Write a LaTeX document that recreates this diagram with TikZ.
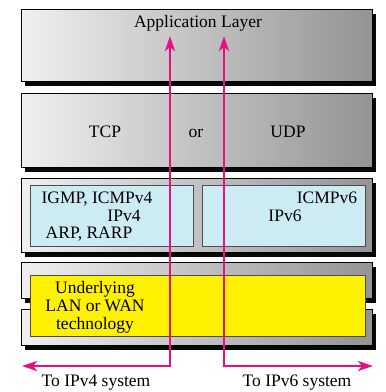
\documentclass[tikz,border=0pt]{standalone}
\usepackage{fontspec}
\setmainfont{Liberation Serif}
\usetikzlibrary{arrows.meta}
\definecolor{flowpink}{HTML}{E8107F}
\definecolor{netblue}{HTML}{CDEBF2}
\definecolor{shadowblack}{RGB}{8,8,8}
\tikzset{
  layer/.style={draw=black,line width=0.8pt,left color=black!6,right color=black!42,
    minimum width=351pt,inner sep=0pt},
  layershadow/.style={fill=shadowblack,minimum width=351pt,inner sep=0pt},
  protobox/.style={draw=black!70,line width=0.8pt,fill=netblue,minimum width=163pt,
    minimum height=61pt,inner sep=0pt},
  txt/.style={font=\rmfamily\fontsize{17.5}{18.4}\selectfont,inner sep=0pt,anchor=base},
  flow/.style={draw=flowpink,line width=2.8pt,
    {Stealth[length=15pt,width=10pt,inset=4pt]}-{Stealth[length=15pt,width=10pt,inset=4pt]}}
}
\begin{document}
\begin{tikzpicture}[x=1pt,y=-1pt]
  \useasboundingbox (0,0) rectangle (386,392);
  % layers: name/top/bottom, each with its black shadow
  \foreach \n/\tp/\bt in {app/9/81,trans/93/167,net/178/252,link/262/298,phys/309/345}{
    \node[layershadow,minimum height={(\bt-\tp)*1pt}] (\n-sh) at (200.5,{(\tp+\bt)/2+4.5}) {};
    \node[layer,minimum height={(\bt-\tp)*1pt}] (\n) at (196.5,{(\tp+\bt)/2}) {};
  }
  \node[protobox] (vfourbox) at (111.5,215.5) {};
  \node[protobox] (vsixbox) at (283.5,215.5) {};
  \node[draw=black!70,line width=0.8pt,fill=yellow,minimum width=335pt,minimum height=61pt,
    inner sep=0pt] (lanbox) at (197.5,305.5) {};

  \node[txt] (applbl) at (198,27) {Application Layer};
  \node[txt] (tcp) at (105,137) {TCP};
  \node[txt] (orlbl) at (196,137) {or};
  \node[txt] (udp) at (288,137) {UDP};
  \node[txt] (igmp) at (97,203) {IGMP, ICMPv4};
  \node[txt] (ipvfour) at (124,221) {IPv4};
  \node[txt] (arp) at (89,238.5) {ARP, RARP};
  \node[txt] (icmpsix) at (327,203) {ICMPv6};
  \node[txt] (ipvsix) at (285,221) {IPv6};
  \node[txt,anchor=center,align=center] (lanlbl) at (95,307.4) {Underlying\\LAN or WAN\\technology};
  \node[txt] (tofour) at (96,386.5) {To IPv4 system};
  \node[txt] (tosix) at (297,386.5) {To IPv6 system};

  % the two paths up the stack
  \coordinate (vfourtop) at (170,36);
  \coordinate (vfourturn) at (170,366);
  \coordinate (vfourend) at (22,366);
  \coordinate (vsixtop) at (224,36);
  \coordinate (vsixturn) at (224,366);
  \coordinate (vsixend) at (373,366);
  \draw[flow] (vfourend) -- (vfourturn) -- (vfourtop);
  \draw[flow] (vsixend) -- (vsixturn) -- (vsixtop);
\end{tikzpicture}
\end{document}
